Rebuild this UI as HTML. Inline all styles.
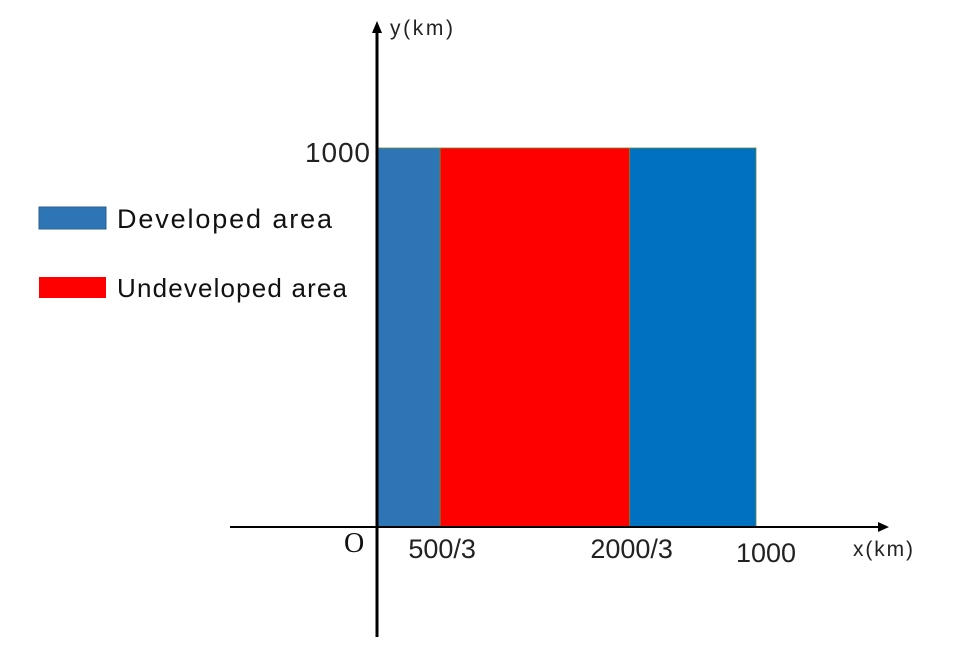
<!DOCTYPE html>
<html><head><meta charset="utf-8"><style>
html,body{margin:0;padding:0;background:#fff}
svg{display:block;font-family:"Liberation Sans","DejaVu Sans",sans-serif}
</style></head><body>
<svg id="chart" width="978" height="655" viewBox="0 0 978 655">
<g id="rects"></g>
<line x1="230" y1="527" x2="880" y2="527" stroke="#000" stroke-width="2"/>
<polygon points="889,527 878,522 878,532" fill="#000"/>
<line x1="377" y1="637" x2="377" y2="30" stroke="#000" stroke-width="3"/>
<polygon points="377,21 372,33 382,33" fill="#000"/>
<text x="390" y="35" font-size="21" textLength="63" fill="#222">y(km)</text>
<text x="853" y="556" font-size="21" textLength="60" fill="#222">x(km)</text>
<text x="370" y="162" font-size="28" textLength="65" text-anchor="end" fill="#222">1000</text>
<text x="344" y="552" font-size="28" font-family="Liberation Serif,serif" fill="#111">O</text>
<g id="xticks"></g>
<rect x="39" y="207" width="67" height="22" fill="#2E75B6" stroke="#2a5f94"/>
<text x="117" y="228" font-size="27" textLength="215" fill="#111">Developed area</text>
<rect x="39" y="277" width="67" height="21" fill="#FF0000"/>
<text x="117" y="297" font-size="26" textLength="230" fill="#111">Undeveloped area</text>
</svg>
<script>
const segStarts=[0,500/3,2000/3];
const segEnds=[500/3,2000/3,1000];
const segHeights=[1000,1000,1000];
const segColors=["#2E75B6","#FF0000","#0070C0"];
const segNames=["developed-left","undeveloped","developed-right"];
const tickLabels=["500/3","2000/3","1000"];
const tickValues=[500/3,2000/3,1000];
const tickDy=[31,31,35];
const X=v=>377+v*0.379, Y=v=>527-v*0.379;
const ns="http://www.w3.org/2000/svg";
const g=document.getElementById('rects');
segStarts.forEach((s,i)=>{
 const r=document.createElementNS(ns,'rect');
 r.setAttribute('x',X(s));r.setAttribute('y',Y(segHeights[i]));
 r.setAttribute('width',X(segEnds[i])-X(s));r.setAttribute('height',Y(0)-Y(segHeights[i]));
 r.setAttribute('fill',segColors[i]);r.setAttribute('stroke','#6a8a3a');r.setAttribute('stroke-width','0.8');
 
 
 g.appendChild(r);
});
const tg=document.getElementById('xticks');
tickValues.forEach((v,i)=>{
 const t=document.createElementNS(ns,'text');
 t.setAttribute('x',X(v)+(i==2?10:2));t.setAttribute('y',527+tickDy[i]);
 t.setAttribute('font-size','27');t.setAttribute('text-anchor','middle');t.setAttribute('fill','#222');
 t.textContent=tickLabels[i];
 
 
 tg.appendChild(t);
});
</script>
</body></html>
